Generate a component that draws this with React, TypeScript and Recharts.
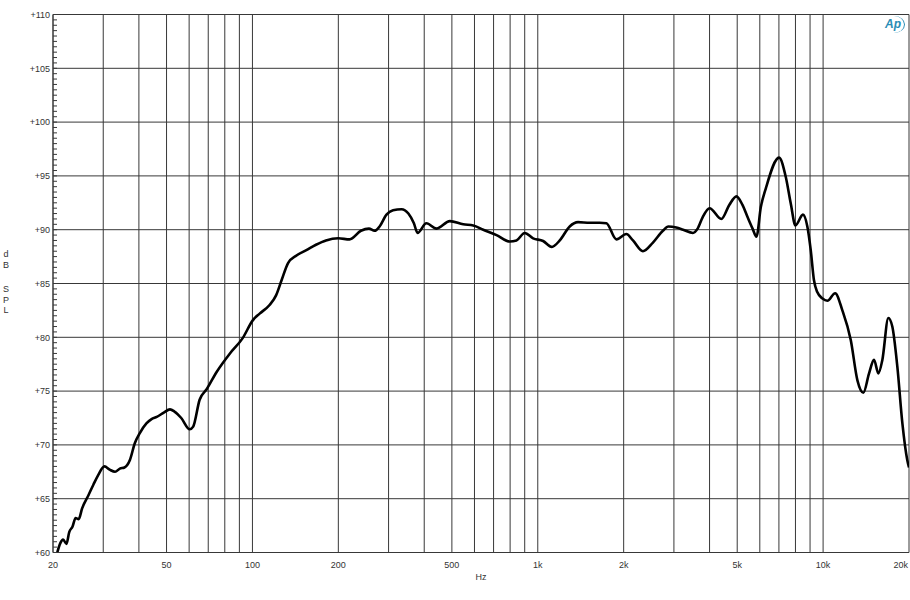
import React from 'react';
import { LineChart, Line, XAxis, YAxis, ReferenceLine } from 'recharts';

// Frequency response (Hz) and sound pressure level (dB SPL)
const freqHz = [
  20.7, 21.2, 21.7, 22.3, 22.8, 23.4, 24.0, 24.6, 25.3, 26.6, 27.7, 28.8, 30.3, 31.6, 33.0, 34.3,
  35.6, 37.2, 38.7, 40.3, 42.5, 44.3, 46.2, 48.9, 51.4, 53.3, 56.3, 60.3, 62, 65.3, 69.2, 75,
  83.4, 92.3, 100.4, 106, 114.8, 121, 126.5, 133.3, 142.7, 154.5, 167, 181, 200, 219, 240, 256,
  268, 279, 295, 311, 333, 352, 368, 379, 407, 442, 492, 548, 594, 644, 717, 798, 842, 900, 963,
  1044, 1120, 1194, 1294, 1384, 1520, 1648, 1740, 1886, 2044, 2156, 2336, 2533, 2745, 2870, 3058,
  3230, 3497, 3633, 3789, 4000, 4398, 4690, 4970, 5217, 5430, 5660, 5840, 6050, 6300, 7010, 7400,
  7700, 8000, 8500, 8805, 9050, 9290, 9540, 9950, 10350, 11020, 11680, 12500, 13190, 13840, 14490,
  15080, 15620, 16130, 16930, 17480, 18200, 18960, 19720, 20000,
];
const splDb = [
  60.0, 60.85, 61.2, 60.8, 61.9, 62.4, 63.2, 63.1, 64.1, 65.3, 66.3, 67.2, 68.0, 67.7, 67.5, 67.8,
  67.9, 68.6, 70.15, 71.1, 72.0, 72.4, 72.6, 73.0, 73.3, 73.1, 72.5, 71.45, 71.7, 74.2, 75.2, 76.8,
  78.5, 79.9, 81.6, 82.2, 83.0, 83.9, 85.3, 86.9, 87.6, 88.1, 88.6, 89.0, 89.2, 89.1, 89.9, 90.1,
  89.9, 90.3, 91.4, 91.8, 91.9, 91.5, 90.6, 89.7, 90.6, 90.1, 90.8, 90.5, 90.4, 90.0, 89.5, 88.9, 89.0, 89.7, 89.2,
  88.95, 88.4, 89.0, 90.3, 90.7, 90.65, 90.65, 90.6, 89.1, 89.6, 89.0, 88.0, 88.8, 89.9, 90.3, 90.2,
  90.0, 89.7, 90.1, 91.2, 92.0, 91.0, 92.3, 93.1, 92.3, 91.2, 90.1, 89.35, 92.1, 93.85, 96.7, 94.9,
  92.45, 90.4, 91.4, 90.3, 88.1, 85.3, 84.2, 83.6, 83.4, 84.1, 82.5, 79.75, 76.0, 74.85, 76.65,
  77.9, 76.65, 77.9, 81.8, 81.0, 77.3, 72.0, 68.6, 67.9,
];

const xTickLabels = [20, 50, 100, 200, 500, 1000, 2000, 5000, 10000, 20000];
const xGridHz = [
  20, 30, 40, 50, 60, 70, 80, 90, 100,
  200, 300, 400, 500, 600, 700, 800, 900, 1000,
  2000, 3000, 4000, 5000, 6000, 7000, 8000, 9000, 10000, 20000,
];
const yMajorDb = [60, 65, 70, 75, 80, 85, 90, 95, 100, 105, 110];
const yMinorStep = 0.5;
const yAllTicks: number[] = [];
for (let i = 0; i < yMajorDb.length - 1; i++) {
  for (let k = 0; k < 5 / yMinorStep; k++) yAllTicks.push(yMajorDb[i] + k * yMinorStep);
}
yAllTicks.push(yMajorDb[yMajorDb.length - 1]);

const data = freqHz.map((f, i) => ({ f, db: splDb[i] }));

const FONT = '"Liberation Sans", Arial, sans-serif';
const GRID = '#383838';
const TEXT = '#333333';

const fmtHz = (v: number) => (v >= 1000 ? `${v / 1000}k` : `${v}`);

const XTick = (props: any) => {
  const { x, y, payload } = props;
  const v = payload.value;
  const last = v === 20000;
  return (
    <text
      x={last ? x - 1 : x}
      y={y + 15}
      textAnchor={last ? 'end' : 'middle'}
      fontSize={9}
      fontFamily={FONT}
      fill={TEXT}
    >
      {fmtHz(v)}
    </text>
  );
};

const YTick = (props: any) => {
  const { x, y, payload } = props;
  const v = payload.value as number;
  const major = Math.abs(v / 5 - Math.round(v / 5)) < 1e-6;
  return (
    <g>
      <line x1={x} y1={y} x2={x + 4} y2={y} stroke={GRID} strokeWidth={1} />
      {major && (
        <text x={x - 3} y={y + 3.3} textAnchor="end" fontSize={9} fontFamily={FONT} fill={TEXT}>
          {`+${v}`}
        </text>
      )}
    </g>
  );
};

export default function App() {
  return (
    <div style={{ position: 'absolute', left: 0, top: 0, width: 910, height: 600, background: '#fff' }}>
      <LineChart
        width={910}
        height={600}
        data={data}
        margin={{ top: 14.5, right: 1, bottom: 17.5, left: 0 }}
      >
        <XAxis
          dataKey="f"
          type="number"
          scale="log"
          domain={[20, 20000]}
          allowDataOverflow
          ticks={xTickLabels}
          interval={0}
          tick={<XTick />}
          tickLine={false}
          tickSize={0}
          tickMargin={0}
          height={30}
          axisLine={{ stroke: GRID }}
        />
        <YAxis
          type="number"
          domain={[60, 110]}
          allowDataOverflow
          ticks={yAllTicks}
          interval={0}
          tick={<YTick />}
          tickLine={false}
          tickSize={0}
          tickMargin={0}
          width={53}
          axisLine={{ stroke: GRID }}
        />
        {xGridHz.map((v) => (
          <ReferenceLine key={`x${v}`} x={v} stroke={GRID} strokeWidth={1} ifOverflow="visible" />
        ))}
        {yMajorDb.map((v) => (
          <ReferenceLine key={`y${v}`} y={v} stroke={GRID} strokeWidth={1} ifOverflow="visible" />
        ))}
        <Line
          type="monotone"
          dataKey="db"
          stroke="#000"
          strokeWidth={2.6}
          dot={false}
          activeDot={false}
          isAnimationActive={false}
        />
      </LineChart>
      <div
        style={{
          position: 'absolute', left: 471, top: 572, width: 20, textAlign: 'center',
          fontFamily: FONT, fontSize: 9, color: TEXT, lineHeight: '10px',
        }}
      >
        Hz
      </div>
      <div
        style={{
          position: 'absolute', left: 0, top: 249, width: 12, textAlign: 'center',
          fontFamily: FONT, fontSize: 9, color: TEXT, lineHeight: '10.5px',
        }}
      >
        <div>d</div>
        <div>B</div>
        <div style={{ marginTop: 14 }}>S</div>
        <div>P</div>
        <div>L</div>
      </div>
      <div
        style={{
          position: 'absolute', left: 883, top: 16, width: 22, height: 17,
          borderRight: '1.5px solid #2a8db5', borderRadius: '0 50% 50% 0',
          fontFamily: FONT, fontStyle: 'italic', fontWeight: 'bold', fontSize: 12,
          color: '#2a8db5', lineHeight: '17px', textAlign: 'left', paddingLeft: 2, boxSizing: 'border-box',
        }}
      >
        Ap
      </div>
    </div>
  );
}
